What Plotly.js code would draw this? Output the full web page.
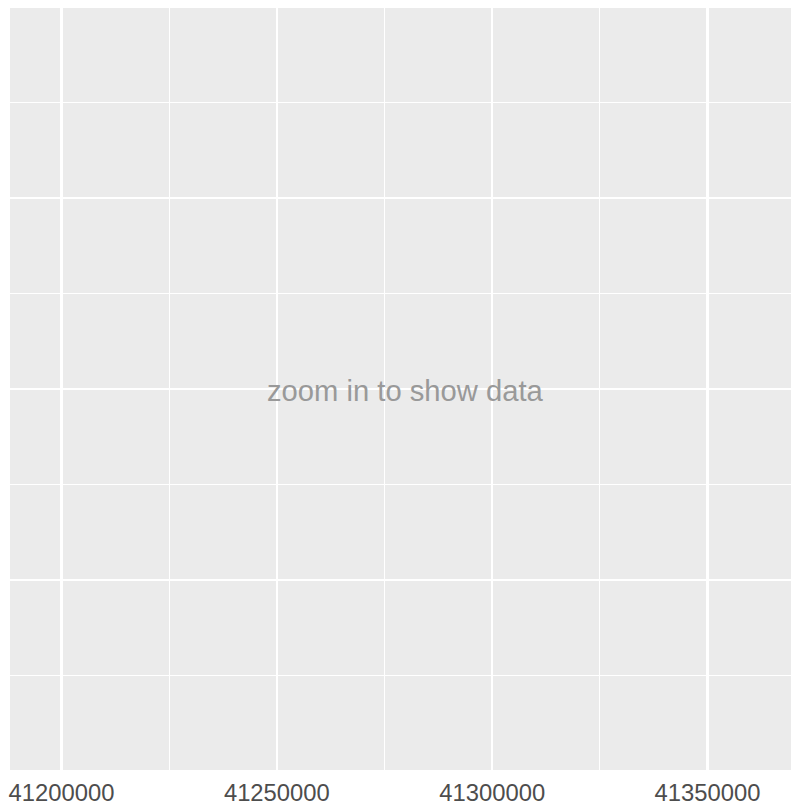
<!DOCTYPE html>
<html>
<head>
<meta charset="utf-8">
<script src="https://cdn.plot.ly/plotly-3.0.1.min.js"></script>
<style>html,body{margin:0;padding:0;background:#fff;}#chart{width:791px;height:807px;}</style>
</head>
<body>
<div id="chart"></div>
<script>
// Data: the chart shows no data points (empty view)
const xValues = [];
const yValues = [];
// Axis ticks
const xMajorTicks = [41200000, 41250000, 41300000, 41350000];
const xTickLabels = ["41200000", "41250000", "41300000", "41350000"];
const xMinorTicks = [41175000, 41225000, 41275000, 41325000, 41375000];
const yMajorTicks = [0, 1, 2, 3, 4];
const yMinorTicks = [0.5, 1.5, 2.5, 3.5];
const xRange = [41188040, 41369390];
const yRange = [0.005, 3.995];
const message = "zoom in to show data";

const trace = {
  x: xValues, y: yValues, type: 'scatter', mode: 'markers',
  marker: {color: '#000'}, showlegend: false, hoverinfo: 'skip'
};

const layout = {
  width: 791, height: 807,
  margin: {l: 10, r: 0, t: 8, b: 37, pad: 0},
  paper_bgcolor: '#FFFFFF',
  plot_bgcolor: '#EBEBEB',
  showlegend: false,
  font: {family: 'Liberation Sans, Arial, sans-serif'},
  xaxis: {
    range: xRange, tickmode: 'array', tickvals: xMajorTicks, ticktext: xTickLabels,
    showgrid: true, gridcolor: '#FFFFFF', gridwidth: 2.2,
    zeroline: false, showline: false, ticks: '',
    tickfont: {size: 23.8, color: '#4D4D4D', family: 'Liberation Sans, Arial, sans-serif'},
    ticklabelstandoff: 6,
    minor: {tickmode: 'array', tickvals: xMinorTicks, showgrid: true, gridcolor: '#FFFFFF', gridwidth: 1.1, ticks: ''},
    fixedrange: true
  },
  yaxis: {
    range: yRange, tickmode: 'array', tickvals: yMajorTicks,
    showticklabels: false,
    showgrid: true, gridcolor: '#FFFFFF', gridwidth: 2.2,
    zeroline: false, showline: false, ticks: '',
    minor: {tickmode: 'array', tickvals: yMinorTicks, showgrid: true, gridcolor: '#FFFFFF', gridwidth: 1.1, ticks: ''},
    fixedrange: true
  },
  annotations: [{
    text: message, xref: 'paper', yref: 'paper', x: 0.5064, y: 0.4976,
    xanchor: 'center', yanchor: 'middle', showarrow: false,
    font: {size: 29.2, color: '#999999', family: 'Liberation Sans, Arial, sans-serif'}
  }]
};

Plotly.newPlot('chart', [trace], layout, {staticPlot: true, displayModeBar: false});
</script>
</body>
</html>
